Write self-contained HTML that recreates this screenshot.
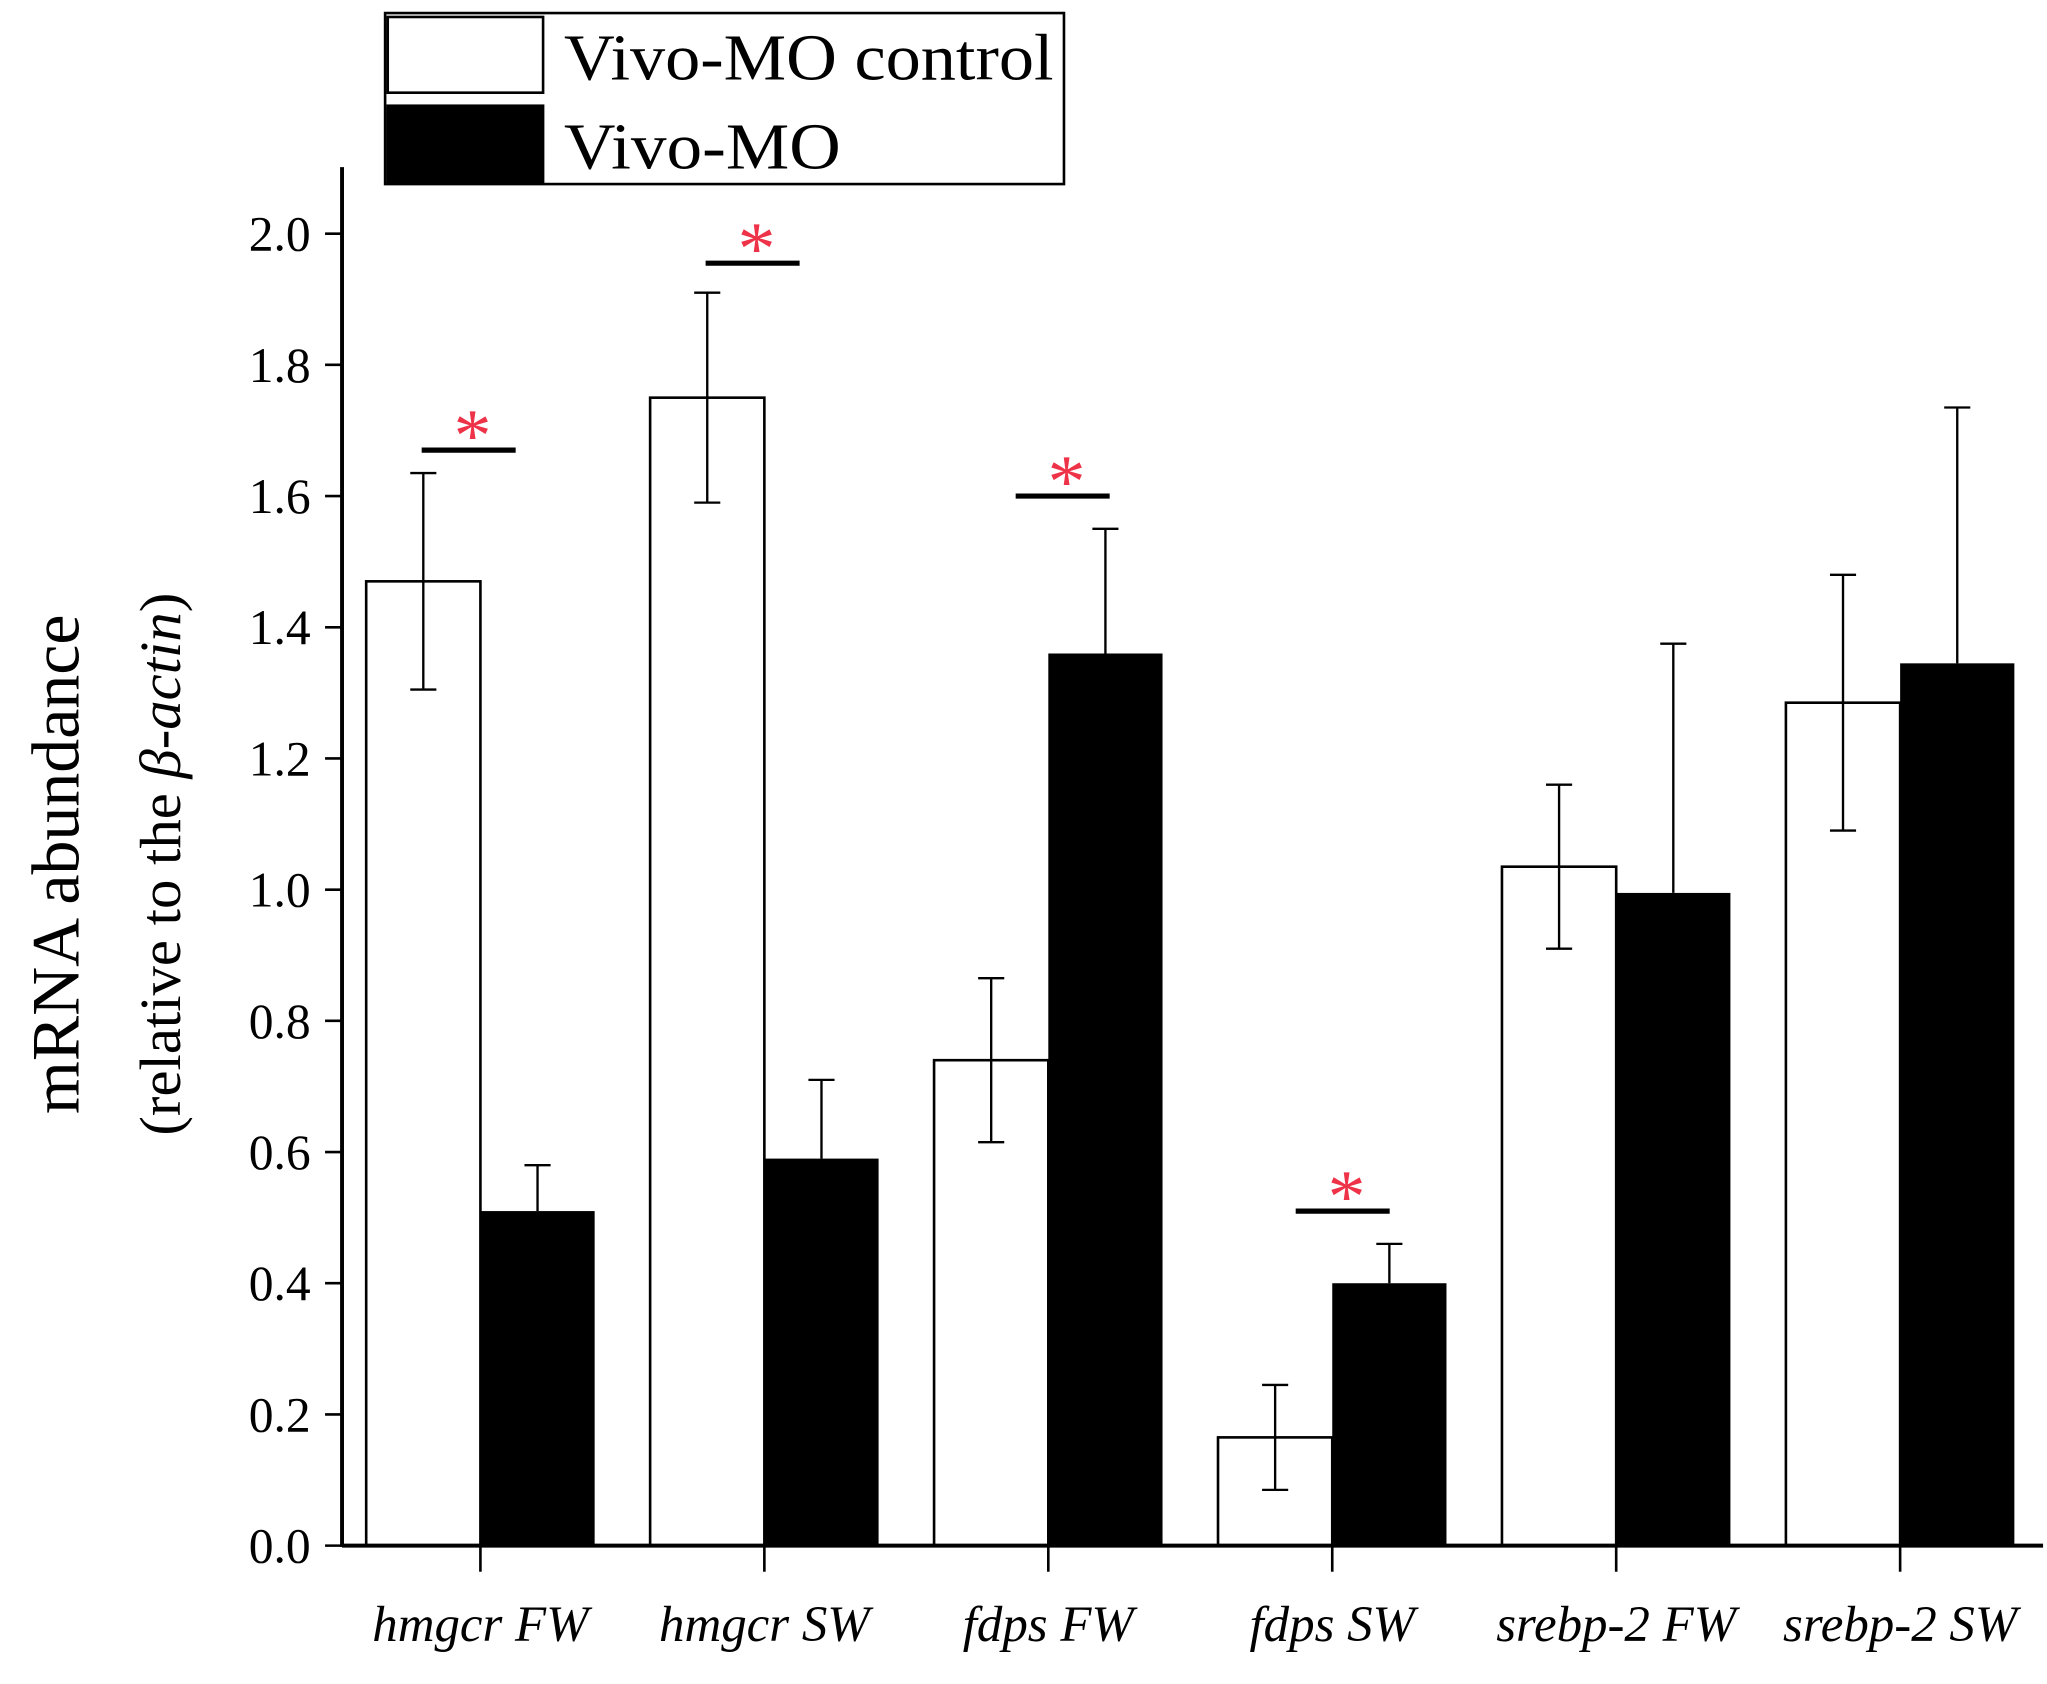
<!DOCTYPE html>
<html><head><meta charset="utf-8"><style>
html,body{margin:0;padding:0;background:#fff;}
svg{display:block;}
text{font-family:"Liberation Serif",serif;}
</style></head><body>
<svg id="chart" width="2047" height="1684" viewBox="0 0 1568 1290" preserveAspectRatio="none" xmlns="http://www.w3.org/2000/svg">
<g>
<rect x="295" y="10" width="520" height="131" fill="#fff" stroke="#000" stroke-width="2"/>
<rect x="297" y="13" width="119" height="58" fill="#fff" stroke="#000" stroke-width="2"/>
<rect x="296" y="80" width="121" height="61" fill="#000"/>
<text x="432" y="61" font-size="50" textLength="375" lengthAdjust="spacingAndGlyphs">Vivo-MO control</text>
<text x="432" y="129" font-size="50" textLength="212" lengthAdjust="spacingAndGlyphs">Vivo-MO</text>
</g>
<text transform="translate(60,662) rotate(-90)" text-anchor="middle" font-size="52">mRNA abundance</text>
<text transform="translate(138,662) rotate(-90)" text-anchor="middle" font-size="45">(relative to the <tspan font-style="italic">β-actin</tspan>)</text>
<g id="plot"></g>
</svg>
<script>
const categories = ["hmgcr FW","hmgcr SW","fdps FW","fdps SW","srebp-2 FW","srebp-2 SW"];
const controlValues = [1.47, 1.75, 0.74, 0.165, 1.035, 1.285];
const controlErrors = [0.165, 0.16, 0.125, 0.08, 0.125, 0.195];
const moValues = [0.51, 0.59, 1.36, 0.40, 0.995, 1.345];
const moErrors = [0.07, 0.12, 0.19, 0.06, 0.38, 0.39];
const yTicks = [0.0,0.2,0.4,0.6,0.8,1.0,1.2,1.4,1.6,1.8,2.0];
const sigGroups = [0, 1, 2, 3];
const sigLevels = [1.67, 1.955, 1.60, 0.51];

const NS = "http://www.w3.org/2000/svg";
const g = document.getElementById("plot");
const y0 = 1184, unit = 502.5, axX = 262;
function yScale(v){ return y0 - v*unit; }
function xCenter(i){ return 368 + i*217.5; }
const bw = 87.5;
const sigShift = [-9, -9, 11, 8];
function mk(tag, attrs){ const e = document.createElementNS(NS, tag); for (const k in attrs) e.setAttribute(k, attrs[k]); g.appendChild(e); return e; }

categories.forEach((c,i)=>{
  const cx = xCenter(i);
  let r = mk("rect",{x:cx-bw,y:yScale(controlValues[i]),width:bw,height:controlValues[i]*unit,fill:"#fff",stroke:"#000","stroke-width":2});
  
  
  let b = mk("rect",{x:cx,y:yScale(moValues[i]),width:bw,height:moValues[i]*unit,fill:"#000"});
  
  
  const ex = cx - bw/2, t = yScale(controlValues[i]+controlErrors[i]), bo = yScale(controlValues[i]-controlErrors[i]);
  let e1 = mk("path",{d:`M${ex} ${t}V${bo}M${ex-10} ${t}H${ex+10}M${ex-10} ${bo}H${ex+10}`,stroke:"#000","stroke-width":1.8,fill:"none"});
  
  
  const mx = cx + bw/2, mt = yScale(moValues[i]+moErrors[i]);
  let e2 = mk("path",{d:`M${mx} ${mt}V${yScale(moValues[i])}M${mx-10} ${mt}H${mx+10}`,stroke:"#000","stroke-width":1.8,fill:"none"});
  
  
  let tk = mk("line",{x1:cx,x2:cx,y1:y0,y2:y0+20,stroke:"#000","stroke-width":2});
  
  
  let lb = mk("text",{x:cx,y:1257,"text-anchor":"middle","font-size":39,"font-style":"italic"});
  lb.textContent = c;
  
  
});
sigGroups.forEach((gi,k)=>{
  const cx = xCenter(gi) + sigShift[k], yy = yScale(sigLevels[k]);
  let l = mk("line",{x1:cx-36,x2:cx+36,y1:yy,y2:yy,stroke:"#000","stroke-width":4});
  
  
  let s = mk("text",{x:cx+3,y:yy+8,"text-anchor":"middle","font-size":58,fill:"#ee3348"});
  s.textContent = "*";
  
  
});
yTicks.forEach(v=>{
  const yy = yScale(v);
  let t = mk("line",{x1:axX-13,x2:axX,y1:yy,y2:yy,stroke:"#000","stroke-width":2});
  
  
  let l = mk("text",{x:axX-24,y:yy+13,"text-anchor":"end","font-size":38});
  l.textContent = v.toFixed(1);
  
  
});
let ya = mk("line",{x1:axX,x2:axX,y1:128,y2:y0+1,stroke:"#000","stroke-width":3});


let xa = mk("line",{x1:axX,x2:1565,y1:y0,y2:y0,stroke:"#000","stroke-width":3});


</script>
</body></html>
